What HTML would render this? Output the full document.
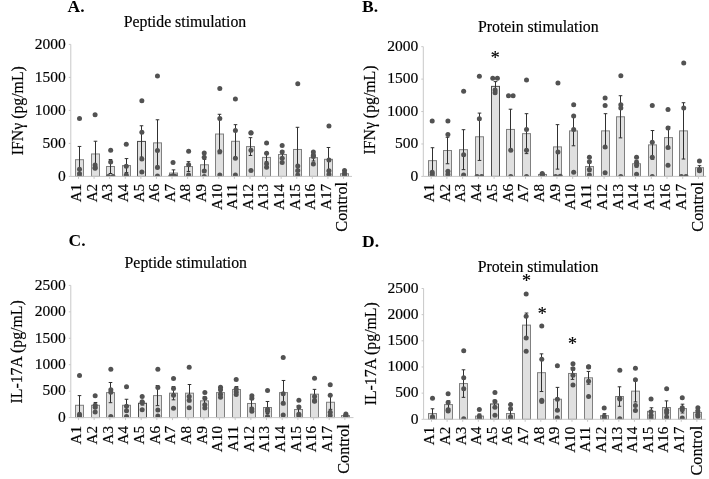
<!DOCTYPE html>
<html><head><meta charset="utf-8"><style>
html,body{margin:0;padding:0;background:#fff;}
svg{display:block;will-change:transform;}
text{font-family:"Liberation Serif",serif;fill:#000;stroke:#000;stroke-width:0.18px;}
.let{font-weight:bold;font-size:17.5px;stroke-width:0;}
.ttl{font-size:15.8px;}
.ylab{font-size:15.8px;}
.tick{font-size:15.5px;}
.cat{font-size:15.2px;}
.ctl{font-size:16.3px;}
.star{font-size:18px;}
.ax{stroke:#c8c8c8;stroke-width:1;}
.bar{fill:#e0e0e0;stroke:#808080;stroke-width:1;}
.err{stroke:#303030;stroke-width:1;}
.dot{fill:#525252;}
.b5{stroke:#4a4a4a;}
</style></head><body>
<svg width="709" height="479" viewBox="0 0 709 479">
<text x="67.5" y="11.8" class="let">A.</text>
<text x="185" y="27" class="ttl" text-anchor="middle">Peptide stimulation</text>
<text transform="translate(22.5,110.7) rotate(-90)" class="ylab" text-anchor="middle">IFNγ (pg/mL)</text>
<text x="65.8" y="180.7" class="tick" text-anchor="end">0</text>
<line x1="68.8" y1="176.4" x2="70.8" y2="176.4" class="ax"/>
<text x="65.8" y="147.7" class="tick" text-anchor="end">500</text>
<line x1="68.8" y1="143.4" x2="70.8" y2="143.4" class="ax"/>
<text x="65.8" y="114.7" class="tick" text-anchor="end">1000</text>
<line x1="68.8" y1="110.4" x2="70.8" y2="110.4" class="ax"/>
<text x="65.8" y="81.7" class="tick" text-anchor="end">1500</text>
<line x1="68.8" y1="77.4" x2="70.8" y2="77.4" class="ax"/>
<text x="65.8" y="48.7" class="tick" text-anchor="end">2000</text>
<line x1="68.8" y1="44.4" x2="70.8" y2="44.4" class="ax"/>
<rect x="75.5" y="159.7" width="8" height="16.7" class="bar"/>
<line x1="79.5" y1="146.44" x2="79.5" y2="172.97" class="err"/>
<line x1="77.7" y1="146.44" x2="81.3" y2="146.44" class="err"/>
<line x1="77.7" y1="172.97" x2="81.3" y2="172.97" class="err"/>
<text transform="translate(81.3,183.8) rotate(-90)" class="cat" text-anchor="end">A1</text>
<line x1="78.5" y1="176.4" x2="78.5" y2="178.9" class="ax"/>
<rect x="91.5" y="153.96" width="8" height="22.44" class="bar"/>
<line x1="95.5" y1="141.22" x2="95.5" y2="166.7" class="err"/>
<line x1="93.7" y1="141.22" x2="97.3" y2="141.22" class="err"/>
<line x1="93.7" y1="166.7" x2="97.3" y2="166.7" class="err"/>
<text transform="translate(96.89,183.8) rotate(-90)" class="cat" text-anchor="end">A2</text>
<line x1="94.09" y1="176.4" x2="94.09" y2="178.9" class="ax"/>
<rect x="106.5" y="166.5" width="8" height="9.9" class="bar"/>
<line x1="110.5" y1="159.5" x2="110.5" y2="173.5" class="err"/>
<line x1="108.7" y1="159.5" x2="112.3" y2="159.5" class="err"/>
<line x1="108.7" y1="173.5" x2="112.3" y2="173.5" class="err"/>
<text transform="translate(112.48,183.8) rotate(-90)" class="cat" text-anchor="end">A3</text>
<line x1="109.68" y1="176.4" x2="109.68" y2="178.9" class="ax"/>
<rect x="122.5" y="165.58" width="8" height="10.82" class="bar"/>
<line x1="126.5" y1="158.58" x2="126.5" y2="172.57" class="err"/>
<line x1="124.7" y1="158.58" x2="128.3" y2="158.58" class="err"/>
<line x1="124.7" y1="172.57" x2="128.3" y2="172.57" class="err"/>
<text transform="translate(128.07,183.8) rotate(-90)" class="cat" text-anchor="end">A4</text>
<line x1="125.27" y1="176.4" x2="125.27" y2="178.9" class="ax"/>
<rect x="137.5" y="141.42" width="8" height="34.98" class="bar b5"/>
<line x1="141.5" y1="125.78" x2="141.5" y2="157.06" class="err"/>
<line x1="139.7" y1="125.78" x2="143.3" y2="125.78" class="err"/>
<line x1="139.7" y1="157.06" x2="143.3" y2="157.06" class="err"/>
<text transform="translate(143.66,183.8) rotate(-90)" class="cat" text-anchor="end">A5</text>
<line x1="140.86" y1="176.4" x2="140.86" y2="178.9" class="ax"/>
<rect x="153.5" y="142.87" width="8" height="33.53" class="bar"/>
<line x1="157.5" y1="119.77" x2="157.5" y2="165.97" class="err"/>
<line x1="155.7" y1="119.77" x2="159.3" y2="119.77" class="err"/>
<line x1="155.7" y1="165.97" x2="159.3" y2="165.97" class="err"/>
<text transform="translate(159.25,183.8) rotate(-90)" class="cat" text-anchor="end">A6</text>
<line x1="156.45" y1="176.4" x2="156.45" y2="178.9" class="ax"/>
<rect x="169.5" y="173.03" width="8" height="3.37" class="bar"/>
<line x1="173.5" y1="169.87" x2="173.5" y2="176.2" class="err"/>
<line x1="171.7" y1="169.87" x2="175.3" y2="169.87" class="err"/>
<line x1="171.7" y1="176.2" x2="175.3" y2="176.2" class="err"/>
<text transform="translate(174.84,183.8) rotate(-90)" class="cat" text-anchor="end">A7</text>
<line x1="172.04" y1="176.4" x2="172.04" y2="178.9" class="ax"/>
<rect x="184.5" y="166.57" width="8" height="9.83" class="bar"/>
<line x1="188.5" y1="161.68" x2="188.5" y2="171.45" class="err"/>
<line x1="186.7" y1="161.68" x2="190.3" y2="161.68" class="err"/>
<line x1="186.7" y1="171.45" x2="190.3" y2="171.45" class="err"/>
<text transform="translate(190.43,183.8) rotate(-90)" class="cat" text-anchor="end">A8</text>
<line x1="187.63" y1="176.4" x2="187.63" y2="178.9" class="ax"/>
<rect x="200.5" y="164.78" width="8" height="11.62" class="bar"/>
<line x1="204.5" y1="159.37" x2="204.5" y2="170.2" class="err"/>
<line x1="202.7" y1="159.37" x2="206.3" y2="159.37" class="err"/>
<line x1="202.7" y1="170.2" x2="206.3" y2="170.2" class="err"/>
<text transform="translate(206.02,183.8) rotate(-90)" class="cat" text-anchor="end">A9</text>
<line x1="203.22" y1="176.4" x2="203.22" y2="178.9" class="ax"/>
<rect x="215.5" y="134.03" width="8" height="42.37" class="bar"/>
<line x1="219.5" y1="114.29" x2="219.5" y2="153.76" class="err"/>
<line x1="217.7" y1="114.29" x2="221.3" y2="114.29" class="err"/>
<line x1="217.7" y1="153.76" x2="221.3" y2="153.76" class="err"/>
<text transform="translate(221.61,183.8) rotate(-90)" class="cat" text-anchor="end">A10</text>
<line x1="218.81" y1="176.4" x2="218.81" y2="178.9" class="ax"/>
<rect x="231.5" y="141.29" width="8" height="35.11" class="bar"/>
<line x1="235.5" y1="124.66" x2="235.5" y2="157.92" class="err"/>
<line x1="233.7" y1="124.66" x2="237.3" y2="124.66" class="err"/>
<line x1="233.7" y1="157.92" x2="237.3" y2="157.92" class="err"/>
<text transform="translate(237.2,183.8) rotate(-90)" class="cat" text-anchor="end">A11</text>
<line x1="234.4" y1="176.4" x2="234.4" y2="178.9" class="ax"/>
<rect x="246.5" y="146.57" width="8" height="29.83" class="bar"/>
<line x1="250.5" y1="137.66" x2="250.5" y2="155.48" class="err"/>
<line x1="248.7" y1="137.66" x2="252.3" y2="137.66" class="err"/>
<line x1="248.7" y1="155.48" x2="252.3" y2="155.48" class="err"/>
<text transform="translate(252.79,183.8) rotate(-90)" class="cat" text-anchor="end">A12</text>
<line x1="249.99" y1="176.4" x2="249.99" y2="178.9" class="ax"/>
<rect x="262.5" y="157.39" width="8" height="19.01" class="bar"/>
<line x1="266.5" y1="153.04" x2="266.5" y2="161.75" class="err"/>
<line x1="264.7" y1="153.04" x2="268.3" y2="153.04" class="err"/>
<line x1="264.7" y1="161.75" x2="268.3" y2="161.75" class="err"/>
<text transform="translate(268.38,183.8) rotate(-90)" class="cat" text-anchor="end">A13</text>
<line x1="265.58" y1="176.4" x2="265.58" y2="178.9" class="ax"/>
<rect x="278.5" y="154.49" width="8" height="21.91" class="bar"/>
<line x1="282.5" y1="150.86" x2="282.5" y2="158.12" class="err"/>
<line x1="280.7" y1="150.86" x2="284.3" y2="150.86" class="err"/>
<line x1="280.7" y1="158.12" x2="284.3" y2="158.12" class="err"/>
<text transform="translate(283.97,183.8) rotate(-90)" class="cat" text-anchor="end">A14</text>
<line x1="281.17" y1="176.4" x2="281.17" y2="178.9" class="ax"/>
<rect x="293.5" y="149.47" width="8" height="26.93" class="bar"/>
<line x1="297.5" y1="127.3" x2="297.5" y2="171.65" class="err"/>
<line x1="295.7" y1="127.3" x2="299.3" y2="127.3" class="err"/>
<line x1="295.7" y1="171.65" x2="299.3" y2="171.65" class="err"/>
<text transform="translate(299.56,183.8) rotate(-90)" class="cat" text-anchor="end">A15</text>
<line x1="296.76" y1="176.4" x2="296.76" y2="178.9" class="ax"/>
<rect x="309.5" y="157.66" width="8" height="18.74" class="bar"/>
<line x1="313.5" y1="154.29" x2="313.5" y2="161.02" class="err"/>
<line x1="311.7" y1="154.29" x2="315.3" y2="154.29" class="err"/>
<line x1="311.7" y1="161.02" x2="315.3" y2="161.02" class="err"/>
<text transform="translate(315.15,183.8) rotate(-90)" class="cat" text-anchor="end">A16</text>
<line x1="312.35" y1="176.4" x2="312.35" y2="178.9" class="ax"/>
<rect x="324.5" y="159.31" width="8" height="17.09" class="bar"/>
<line x1="328.5" y1="147.49" x2="328.5" y2="171.12" class="err"/>
<line x1="326.7" y1="147.49" x2="330.3" y2="147.49" class="err"/>
<line x1="326.7" y1="171.12" x2="330.3" y2="171.12" class="err"/>
<text transform="translate(330.74,183.8) rotate(-90)" class="cat" text-anchor="end">A17</text>
<line x1="327.94" y1="176.4" x2="327.94" y2="178.9" class="ax"/>
<rect x="340.5" y="173.76" width="8" height="2.64" class="bar"/>
<line x1="344.5" y1="170.86" x2="344.5" y2="176.4" class="err"/>
<line x1="342.7" y1="170.86" x2="346.3" y2="170.86" class="err"/>
<text transform="translate(347.43,181.9) rotate(-90)" class="cat ctl" text-anchor="end">Control</text>
<line x1="343.53" y1="176.4" x2="343.53" y2="178.9" class="ax"/>
<clipPath id="cpA"><rect x="70.8" y="0" width="291.2" height="176.4"/></clipPath>
<g clip-path="url(#cpA)"><circle cx="79.5" cy="118.58" r="2.5" class="dot"/><circle cx="79.5" cy="169.14" r="2.5" class="dot"/><circle cx="79.5" cy="173.76" r="2.5" class="dot"/><circle cx="79.5" cy="176.4" r="2.5" class="dot"/><circle cx="95.09" cy="114.69" r="2.5" class="dot"/><circle cx="95.09" cy="165.05" r="2.5" class="dot"/><circle cx="95.09" cy="167.82" r="2.5" class="dot"/><circle cx="95.09" cy="168.22" r="2.5" class="dot"/><circle cx="110.68" cy="150.13" r="2.5" class="dot"/><circle cx="110.68" cy="161.95" r="2.5" class="dot"/><circle cx="108.38" cy="176.4" r="2.5" class="dot"/><circle cx="112.98" cy="176.4" r="2.5" class="dot"/><circle cx="126.27" cy="144.32" r="2.5" class="dot"/><circle cx="126.27" cy="166.3" r="2.5" class="dot"/><circle cx="126.27" cy="175.08" r="2.5" class="dot"/><circle cx="126.27" cy="176.4" r="2.5" class="dot"/><circle cx="141.86" cy="100.7" r="2.5" class="dot"/><circle cx="141.86" cy="132.31" r="2.5" class="dot"/><circle cx="141.86" cy="159.04" r="2.5" class="dot"/><circle cx="141.86" cy="172.04" r="2.5" class="dot"/><circle cx="157.45" cy="75.88" r="2.5" class="dot"/><circle cx="157.45" cy="150.59" r="2.5" class="dot"/><circle cx="157.45" cy="167.49" r="2.5" class="dot"/><circle cx="157.45" cy="175.94" r="2.5" class="dot"/><circle cx="173.04" cy="162.41" r="2.5" class="dot"/><circle cx="170.74" cy="176.4" r="2.5" class="dot"/><circle cx="175.34" cy="176.4" r="2.5" class="dot"/><circle cx="173.04" cy="175.74" r="2.5" class="dot"/><circle cx="188.63" cy="151.32" r="2.5" class="dot"/><circle cx="188.63" cy="164.85" r="2.5" class="dot"/><circle cx="188.63" cy="175.08" r="2.5" class="dot"/><circle cx="188.63" cy="176.4" r="2.5" class="dot"/><circle cx="204.22" cy="153.04" r="2.5" class="dot"/><circle cx="204.22" cy="157.33" r="2.5" class="dot"/><circle cx="204.22" cy="170.92" r="2.5" class="dot"/><circle cx="204.22" cy="176.4" r="2.5" class="dot"/><circle cx="219.81" cy="88.55" r="2.5" class="dot"/><circle cx="219.81" cy="118.39" r="2.5" class="dot"/><circle cx="219.81" cy="151.58" r="2.5" class="dot"/><circle cx="219.81" cy="174.95" r="2.5" class="dot"/><circle cx="235.4" cy="98.92" r="2.5" class="dot"/><circle cx="235.4" cy="130.4" r="2.5" class="dot"/><circle cx="235.4" cy="158.32" r="2.5" class="dot"/><circle cx="235.4" cy="174.95" r="2.5" class="dot"/><circle cx="250.99" cy="132.84" r="2.5" class="dot"/><circle cx="250.99" cy="133.1" r="2.5" class="dot"/><circle cx="250.99" cy="150.13" r="2.5" class="dot"/><circle cx="250.99" cy="170.39" r="2.5" class="dot"/><circle cx="266.58" cy="142.94" r="2.5" class="dot"/><circle cx="266.58" cy="153.3" r="2.5" class="dot"/><circle cx="266.58" cy="163.66" r="2.5" class="dot"/><circle cx="266.58" cy="167.23" r="2.5" class="dot"/><circle cx="282.17" cy="145.58" r="2.5" class="dot"/><circle cx="282.17" cy="152.11" r="2.5" class="dot"/><circle cx="282.17" cy="158.32" r="2.5" class="dot"/><circle cx="282.17" cy="162.41" r="2.5" class="dot"/><circle cx="297.76" cy="83.74" r="2.5" class="dot"/><circle cx="297.76" cy="166.04" r="2.5" class="dot"/><circle cx="297.76" cy="170.39" r="2.5" class="dot"/><circle cx="297.76" cy="174.95" r="2.5" class="dot"/><circle cx="313.35" cy="152.11" r="2.5" class="dot"/><circle cx="313.35" cy="155.28" r="2.5" class="dot"/><circle cx="313.35" cy="156.6" r="2.5" class="dot"/><circle cx="313.35" cy="164.12" r="2.5" class="dot"/><circle cx="328.94" cy="126.11" r="2.5" class="dot"/><circle cx="328.94" cy="160.03" r="2.5" class="dot"/><circle cx="328.94" cy="170.86" r="2.5" class="dot"/><circle cx="328.94" cy="174.49" r="2.5" class="dot"/><circle cx="344.53" cy="170.39" r="2.5" class="dot"/><circle cx="344.53" cy="173.3" r="2.5" class="dot"/><circle cx="344.53" cy="174.95" r="2.5" class="dot"/><circle cx="344.53" cy="176.4" r="2.5" class="dot"/></g>
<line x1="70.8" y1="44.4" x2="70.8" y2="176.4" class="ax"/>
<line x1="70.8" y1="176.4" x2="352" y2="176.4" class="ax"/>
<text x="362" y="12" class="let">B.</text>
<text x="538.3" y="31.8" class="ttl" text-anchor="middle">Protein stimulation</text>
<text transform="translate(375,110) rotate(-90)" class="ylab" text-anchor="middle">IFNγ (pg/mL)</text>
<text x="418.3" y="180.7" class="tick" text-anchor="end">0</text>
<line x1="421.3" y1="176.4" x2="423.3" y2="176.4" class="ax"/>
<text x="418.3" y="148.27" class="tick" text-anchor="end">500</text>
<line x1="421.3" y1="143.97" x2="423.3" y2="143.97" class="ax"/>
<text x="418.3" y="115.84" class="tick" text-anchor="end">1000</text>
<line x1="421.3" y1="111.54" x2="423.3" y2="111.54" class="ax"/>
<text x="418.3" y="83.41" class="tick" text-anchor="end">1500</text>
<line x1="421.3" y1="79.11" x2="423.3" y2="79.11" class="ax"/>
<text x="418.3" y="50.98" class="tick" text-anchor="end">2000</text>
<line x1="421.3" y1="46.68" x2="423.3" y2="46.68" class="ax"/>
<rect x="428.5" y="160.64" width="8" height="15.76" class="bar"/>
<line x1="432.5" y1="147.73" x2="432.5" y2="173.55" class="err"/>
<line x1="430.7" y1="147.73" x2="434.3" y2="147.73" class="err"/>
<line x1="430.7" y1="173.55" x2="434.3" y2="173.55" class="err"/>
<text transform="translate(434,183.8) rotate(-90)" class="cat" text-anchor="end">A1</text>
<line x1="431.2" y1="176.4" x2="431.2" y2="178.9" class="ax"/>
<rect x="443.5" y="150.52" width="8" height="25.88" class="bar"/>
<line x1="447.5" y1="137.29" x2="447.5" y2="163.75" class="err"/>
<line x1="445.7" y1="137.29" x2="449.3" y2="137.29" class="err"/>
<line x1="445.7" y1="163.75" x2="449.3" y2="163.75" class="err"/>
<text transform="translate(449.72,183.8) rotate(-90)" class="cat" text-anchor="end">A2</text>
<line x1="446.92" y1="176.4" x2="446.92" y2="178.9" class="ax"/>
<rect x="459.5" y="149.68" width="8" height="26.72" class="bar"/>
<line x1="463.5" y1="129.7" x2="463.5" y2="169.65" class="err"/>
<line x1="461.7" y1="129.7" x2="465.3" y2="129.7" class="err"/>
<line x1="461.7" y1="169.65" x2="465.3" y2="169.65" class="err"/>
<text transform="translate(465.44,183.8) rotate(-90)" class="cat" text-anchor="end">A3</text>
<line x1="462.64" y1="176.4" x2="462.64" y2="178.9" class="ax"/>
<rect x="475.5" y="136.77" width="8" height="39.63" class="bar"/>
<line x1="479.5" y1="113.1" x2="479.5" y2="160.44" class="err"/>
<line x1="477.7" y1="113.1" x2="481.3" y2="113.1" class="err"/>
<line x1="477.7" y1="160.44" x2="481.3" y2="160.44" class="err"/>
<text transform="translate(481.16,183.8) rotate(-90)" class="cat" text-anchor="end">A4</text>
<line x1="478.36" y1="176.4" x2="478.36" y2="178.9" class="ax"/>
<rect x="491.5" y="86.37" width="8" height="90.03" class="bar b5"/>
<line x1="495.5" y1="81.64" x2="495.5" y2="91.11" class="err"/>
<line x1="493.7" y1="81.64" x2="497.3" y2="81.64" class="err"/>
<line x1="493.7" y1="91.11" x2="497.3" y2="91.11" class="err"/>
<text transform="translate(496.88,183.8) rotate(-90)" class="cat" text-anchor="end">A5</text>
<line x1="494.08" y1="176.4" x2="494.08" y2="178.9" class="ax"/>
<rect x="506.5" y="129.44" width="8" height="46.96" class="bar"/>
<line x1="510.5" y1="109.21" x2="510.5" y2="149.68" class="err"/>
<line x1="508.7" y1="109.21" x2="512.3" y2="109.21" class="err"/>
<line x1="508.7" y1="149.68" x2="512.3" y2="149.68" class="err"/>
<text transform="translate(512.6,183.8) rotate(-90)" class="cat" text-anchor="end">A6</text>
<line x1="509.8" y1="176.4" x2="509.8" y2="178.9" class="ax"/>
<rect x="522.5" y="133.66" width="8" height="42.74" class="bar"/>
<line x1="526.5" y1="113.68" x2="526.5" y2="153.63" class="err"/>
<line x1="524.7" y1="113.68" x2="528.3" y2="113.68" class="err"/>
<line x1="524.7" y1="153.63" x2="528.3" y2="153.63" class="err"/>
<text transform="translate(528.32,183.8) rotate(-90)" class="cat" text-anchor="end">A7</text>
<line x1="525.52" y1="176.4" x2="525.52" y2="178.9" class="ax"/>
<rect x="538.5" y="174.45" width="8" height="1.95" class="bar"/>
<line x1="542.5" y1="173.61" x2="542.5" y2="175.3" class="err"/>
<line x1="540.7" y1="173.61" x2="544.3" y2="173.61" class="err"/>
<line x1="540.7" y1="175.3" x2="544.3" y2="175.3" class="err"/>
<text transform="translate(544.04,183.8) rotate(-90)" class="cat" text-anchor="end">A8</text>
<line x1="541.24" y1="176.4" x2="541.24" y2="178.9" class="ax"/>
<rect x="553.5" y="146.89" width="8" height="29.51" class="bar"/>
<line x1="557.5" y1="124.64" x2="557.5" y2="169.14" class="err"/>
<line x1="555.7" y1="124.64" x2="559.3" y2="124.64" class="err"/>
<line x1="555.7" y1="169.14" x2="559.3" y2="169.14" class="err"/>
<text transform="translate(559.76,183.8) rotate(-90)" class="cat" text-anchor="end">A9</text>
<line x1="556.96" y1="176.4" x2="556.96" y2="178.9" class="ax"/>
<rect x="569.5" y="130.87" width="8" height="45.53" class="bar"/>
<line x1="573.5" y1="115.95" x2="573.5" y2="145.79" class="err"/>
<line x1="571.7" y1="115.95" x2="575.3" y2="115.95" class="err"/>
<line x1="571.7" y1="145.79" x2="575.3" y2="145.79" class="err"/>
<text transform="translate(575.48,183.8) rotate(-90)" class="cat" text-anchor="end">A10</text>
<line x1="572.68" y1="176.4" x2="572.68" y2="178.9" class="ax"/>
<rect x="585.5" y="166.54" width="8" height="9.86" class="bar"/>
<line x1="589.5" y1="161.48" x2="589.5" y2="171.6" class="err"/>
<line x1="587.7" y1="161.48" x2="591.3" y2="161.48" class="err"/>
<line x1="587.7" y1="171.6" x2="591.3" y2="171.6" class="err"/>
<text transform="translate(591.2,183.8) rotate(-90)" class="cat" text-anchor="end">A11</text>
<line x1="588.4" y1="176.4" x2="588.4" y2="178.9" class="ax"/>
<rect x="601.5" y="130.87" width="8" height="45.53" class="bar"/>
<line x1="605.5" y1="113.68" x2="605.5" y2="148.06" class="err"/>
<line x1="603.7" y1="113.68" x2="607.3" y2="113.68" class="err"/>
<line x1="603.7" y1="148.06" x2="607.3" y2="148.06" class="err"/>
<text transform="translate(606.92,183.8) rotate(-90)" class="cat" text-anchor="end">A12</text>
<line x1="604.12" y1="176.4" x2="604.12" y2="178.9" class="ax"/>
<rect x="616.5" y="116.79" width="8" height="59.61" class="bar"/>
<line x1="620.5" y1="95.71" x2="620.5" y2="137.87" class="err"/>
<line x1="618.7" y1="95.71" x2="622.3" y2="95.71" class="err"/>
<line x1="618.7" y1="137.87" x2="622.3" y2="137.87" class="err"/>
<text transform="translate(622.64,183.8) rotate(-90)" class="cat" text-anchor="end">A13</text>
<line x1="619.84" y1="176.4" x2="619.84" y2="178.9" class="ax"/>
<rect x="632.5" y="163.75" width="8" height="12.65" class="bar"/>
<line x1="636.5" y1="160.38" x2="636.5" y2="167.13" class="err"/>
<line x1="634.7" y1="160.38" x2="638.3" y2="160.38" class="err"/>
<line x1="634.7" y1="167.13" x2="638.3" y2="167.13" class="err"/>
<text transform="translate(638.36,183.8) rotate(-90)" class="cat" text-anchor="end">A14</text>
<line x1="635.56" y1="176.4" x2="635.56" y2="178.9" class="ax"/>
<rect x="648.5" y="144.88" width="8" height="31.52" class="bar"/>
<line x1="652.5" y1="130.54" x2="652.5" y2="159.21" class="err"/>
<line x1="650.7" y1="130.54" x2="654.3" y2="130.54" class="err"/>
<line x1="650.7" y1="159.21" x2="654.3" y2="159.21" class="err"/>
<text transform="translate(654.08,183.8) rotate(-90)" class="cat" text-anchor="end">A15</text>
<line x1="651.28" y1="176.4" x2="651.28" y2="178.9" class="ax"/>
<rect x="664.5" y="137.61" width="8" height="38.79" class="bar"/>
<line x1="668.5" y1="126.65" x2="668.5" y2="148.58" class="err"/>
<line x1="666.7" y1="126.65" x2="670.3" y2="126.65" class="err"/>
<line x1="666.7" y1="148.58" x2="670.3" y2="148.58" class="err"/>
<text transform="translate(669.8,183.8) rotate(-90)" class="cat" text-anchor="end">A16</text>
<line x1="667" y1="176.4" x2="667" y2="178.9" class="ax"/>
<rect x="679.5" y="130.87" width="8" height="45.53" class="bar"/>
<line x1="683.5" y1="102.72" x2="683.5" y2="159.02" class="err"/>
<line x1="681.7" y1="102.72" x2="685.3" y2="102.72" class="err"/>
<line x1="681.7" y1="159.02" x2="685.3" y2="159.02" class="err"/>
<text transform="translate(685.52,183.8) rotate(-90)" class="cat" text-anchor="end">A17</text>
<line x1="682.72" y1="176.4" x2="682.72" y2="178.9" class="ax"/>
<rect x="695.5" y="167.71" width="8" height="8.69" class="bar"/>
<line x1="699.5" y1="165.7" x2="699.5" y2="169.72" class="err"/>
<line x1="697.7" y1="165.7" x2="701.3" y2="165.7" class="err"/>
<line x1="697.7" y1="169.72" x2="701.3" y2="169.72" class="err"/>
<text transform="translate(703.24,181.9) rotate(-90)" class="cat ctl" text-anchor="end">Control</text>
<line x1="698.44" y1="176.4" x2="698.44" y2="178.9" class="ax"/>
<text x="495.2" y="63.6" class="star" text-anchor="middle">*</text>
<clipPath id="cpB"><rect x="423.3" y="0" width="292.9" height="176.4"/></clipPath>
<g clip-path="url(#cpB)"><circle cx="432.2" cy="121.01" r="2.5" class="dot"/><circle cx="432.2" cy="172.18" r="2.5" class="dot"/><circle cx="432.2" cy="174.45" r="2.5" class="dot"/><circle cx="432.2" cy="176.4" r="2.5" class="dot"/><circle cx="447.92" cy="121.01" r="2.5" class="dot"/><circle cx="447.92" cy="134.5" r="2.5" class="dot"/><circle cx="447.92" cy="171.34" r="2.5" class="dot"/><circle cx="447.92" cy="174.45" r="2.5" class="dot"/><circle cx="463.64" cy="91.17" r="2.5" class="dot"/><circle cx="463.64" cy="154.74" r="2.5" class="dot"/><circle cx="463.64" cy="174.97" r="2.5" class="dot"/><circle cx="463.64" cy="176.4" r="2.5" class="dot"/><circle cx="479.36" cy="76.26" r="2.5" class="dot"/><circle cx="479.36" cy="118.74" r="2.5" class="dot"/><circle cx="477.06" cy="176.4" r="2.5" class="dot"/><circle cx="481.66" cy="176.4" r="2.5" class="dot"/><circle cx="492.78" cy="78.27" r="2.5" class="dot"/><circle cx="497.38" cy="78.27" r="2.5" class="dot"/><circle cx="495.08" cy="90.07" r="2.5" class="dot"/><circle cx="495.08" cy="92.86" r="2.5" class="dot"/><circle cx="508.5" cy="95.71" r="2.5" class="dot"/><circle cx="513.1" cy="95.71" r="2.5" class="dot"/><circle cx="510.8" cy="150.26" r="2.5" class="dot"/><circle cx="510.8" cy="176.4" r="2.5" class="dot"/><circle cx="526.52" cy="79.95" r="2.5" class="dot"/><circle cx="526.52" cy="129.44" r="2.5" class="dot"/><circle cx="526.52" cy="150.26" r="2.5" class="dot"/><circle cx="526.52" cy="176.4" r="2.5" class="dot"/><circle cx="542.24" cy="173.61" r="2.5" class="dot"/><circle cx="542.24" cy="174.45" r="2.5" class="dot"/><circle cx="542.24" cy="175.1" r="2.5" class="dot"/><circle cx="542.24" cy="176.4" r="2.5" class="dot"/><circle cx="557.96" cy="83" r="2.5" class="dot"/><circle cx="557.96" cy="151.95" r="2.5" class="dot"/><circle cx="555.66" cy="176.4" r="2.5" class="dot"/><circle cx="560.26" cy="176.21" r="2.5" class="dot"/><circle cx="573.68" cy="104.66" r="2.5" class="dot"/><circle cx="573.68" cy="115.95" r="2.5" class="dot"/><circle cx="573.68" cy="129.44" r="2.5" class="dot"/><circle cx="573.68" cy="172.18" r="2.5" class="dot"/><circle cx="589.4" cy="157.27" r="2.5" class="dot"/><circle cx="589.4" cy="161.81" r="2.5" class="dot"/><circle cx="589.4" cy="169.4" r="2.5" class="dot"/><circle cx="589.4" cy="175.1" r="2.5" class="dot"/><circle cx="605.12" cy="97.92" r="2.5" class="dot"/><circle cx="605.12" cy="105.51" r="2.5" class="dot"/><circle cx="605.12" cy="146.89" r="2.5" class="dot"/><circle cx="605.12" cy="172.77" r="2.5" class="dot"/><circle cx="620.84" cy="75.74" r="2.5" class="dot"/><circle cx="620.84" cy="104.66" r="2.5" class="dot"/><circle cx="620.84" cy="108.04" r="2.5" class="dot"/><circle cx="620.84" cy="176.4" r="2.5" class="dot"/><circle cx="636.56" cy="157.27" r="2.5" class="dot"/><circle cx="636.56" cy="162.33" r="2.5" class="dot"/><circle cx="636.56" cy="165.18" r="2.5" class="dot"/><circle cx="636.56" cy="174.13" r="2.5" class="dot"/><circle cx="652.28" cy="105.51" r="2.5" class="dot"/><circle cx="652.28" cy="142.35" r="2.5" class="dot"/><circle cx="652.28" cy="157.27" r="2.5" class="dot"/><circle cx="652.28" cy="176.4" r="2.5" class="dot"/><circle cx="668" cy="109.46" r="2.5" class="dot"/><circle cx="668" cy="128.01" r="2.5" class="dot"/><circle cx="668" cy="147.41" r="2.5" class="dot"/><circle cx="668" cy="165.18" r="2.5" class="dot"/><circle cx="683.72" cy="63.09" r="2.5" class="dot"/><circle cx="683.72" cy="108.04" r="2.5" class="dot"/><circle cx="681.42" cy="176.4" r="2.5" class="dot"/><circle cx="686.02" cy="176.4" r="2.5" class="dot"/><circle cx="699.44" cy="160.96" r="2.5" class="dot"/><circle cx="699.44" cy="169.4" r="2.5" class="dot"/><circle cx="699.44" cy="170.76" r="2.5" class="dot"/><circle cx="699.44" cy="169.91" r="2.5" class="dot"/></g>
<line x1="423.3" y1="46.68" x2="423.3" y2="176.4" class="ax"/>
<line x1="423.3" y1="176.4" x2="706.2" y2="176.4" class="ax"/>
<text x="68.5" y="245.9" class="let">C.</text>
<text x="185.8" y="267.6" class="ttl" text-anchor="middle">Peptide stimulation</text>
<text transform="translate(22.4,351.9) rotate(-90)" class="ylab" text-anchor="middle">IL-17A (pg/mL)</text>
<text x="65.8" y="421.9" class="tick" text-anchor="end">0</text>
<line x1="68.8" y1="417.6" x2="70.8" y2="417.6" class="ax"/>
<text x="65.8" y="395.46" class="tick" text-anchor="end">500</text>
<line x1="68.8" y1="391.16" x2="70.8" y2="391.16" class="ax"/>
<text x="65.8" y="369.02" class="tick" text-anchor="end">1000</text>
<line x1="68.8" y1="364.72" x2="70.8" y2="364.72" class="ax"/>
<text x="65.8" y="342.58" class="tick" text-anchor="end">1500</text>
<line x1="68.8" y1="338.28" x2="70.8" y2="338.28" class="ax"/>
<text x="65.8" y="316.14" class="tick" text-anchor="end">2000</text>
<line x1="68.8" y1="311.84" x2="70.8" y2="311.84" class="ax"/>
<text x="65.8" y="289.7" class="tick" text-anchor="end">2500</text>
<line x1="68.8" y1="285.4" x2="70.8" y2="285.4" class="ax"/>
<rect x="75.5" y="405.28" width="8" height="12.32" class="bar"/>
<line x1="79.5" y1="395.6" x2="79.5" y2="414.96" class="err"/>
<line x1="77.7" y1="395.6" x2="81.3" y2="395.6" class="err"/>
<line x1="77.7" y1="414.96" x2="81.3" y2="414.96" class="err"/>
<text transform="translate(81.3,426) rotate(-90)" class="cat" text-anchor="end">A1</text>
<line x1="78.5" y1="417.6" x2="78.5" y2="420.1" class="ax"/>
<rect x="91.5" y="405.28" width="8" height="12.32" class="bar"/>
<line x1="95.5" y1="402.48" x2="95.5" y2="408.08" class="err"/>
<line x1="93.7" y1="402.48" x2="97.3" y2="402.48" class="err"/>
<line x1="93.7" y1="408.08" x2="97.3" y2="408.08" class="err"/>
<text transform="translate(96.97,426) rotate(-90)" class="cat" text-anchor="end">A2</text>
<line x1="94.17" y1="417.6" x2="94.17" y2="420.1" class="ax"/>
<rect x="106.5" y="392.59" width="8" height="25.01" class="bar"/>
<line x1="110.5" y1="382.49" x2="110.5" y2="402.69" class="err"/>
<line x1="108.7" y1="382.49" x2="112.3" y2="382.49" class="err"/>
<line x1="108.7" y1="402.69" x2="112.3" y2="402.69" class="err"/>
<text transform="translate(112.64,426) rotate(-90)" class="cat" text-anchor="end">A3</text>
<line x1="109.84" y1="417.6" x2="109.84" y2="420.1" class="ax"/>
<rect x="122.5" y="405.28" width="8" height="12.32" class="bar"/>
<line x1="126.5" y1="399.25" x2="126.5" y2="411.31" class="err"/>
<line x1="124.7" y1="399.25" x2="128.3" y2="399.25" class="err"/>
<line x1="124.7" y1="411.31" x2="128.3" y2="411.31" class="err"/>
<text transform="translate(128.31,426) rotate(-90)" class="cat" text-anchor="end">A4</text>
<line x1="125.51" y1="417.6" x2="125.51" y2="420.1" class="ax"/>
<rect x="138.5" y="403.27" width="8" height="14.33" class="bar b5"/>
<line x1="142.5" y1="401.47" x2="142.5" y2="405.07" class="err"/>
<line x1="140.7" y1="401.47" x2="144.3" y2="401.47" class="err"/>
<line x1="140.7" y1="405.07" x2="144.3" y2="405.07" class="err"/>
<text transform="translate(143.98,426) rotate(-90)" class="cat" text-anchor="end">A5</text>
<line x1="141.18" y1="417.6" x2="141.18" y2="420.1" class="ax"/>
<rect x="153.5" y="395.6" width="8" height="22" class="bar"/>
<line x1="157.5" y1="385.5" x2="157.5" y2="405.7" class="err"/>
<line x1="155.7" y1="385.5" x2="159.3" y2="385.5" class="err"/>
<line x1="155.7" y1="405.7" x2="159.3" y2="405.7" class="err"/>
<text transform="translate(159.65,426) rotate(-90)" class="cat" text-anchor="end">A6</text>
<line x1="156.85" y1="417.6" x2="156.85" y2="420.1" class="ax"/>
<rect x="169.5" y="393.17" width="8" height="24.43" class="bar"/>
<line x1="173.5" y1="386.51" x2="173.5" y2="399.83" class="err"/>
<line x1="171.7" y1="386.51" x2="175.3" y2="386.51" class="err"/>
<line x1="171.7" y1="399.83" x2="175.3" y2="399.83" class="err"/>
<text transform="translate(175.32,426) rotate(-90)" class="cat" text-anchor="end">A7</text>
<line x1="172.52" y1="417.6" x2="172.52" y2="420.1" class="ax"/>
<rect x="185.5" y="393.17" width="8" height="24.43" class="bar"/>
<line x1="189.5" y1="384.5" x2="189.5" y2="401.84" class="err"/>
<line x1="187.7" y1="384.5" x2="191.3" y2="384.5" class="err"/>
<line x1="187.7" y1="401.84" x2="191.3" y2="401.84" class="err"/>
<text transform="translate(190.99,426) rotate(-90)" class="cat" text-anchor="end">A8</text>
<line x1="188.19" y1="417.6" x2="188.19" y2="420.1" class="ax"/>
<rect x="200.5" y="400.84" width="8" height="16.76" class="bar"/>
<line x1="204.5" y1="396.82" x2="204.5" y2="404.86" class="err"/>
<line x1="202.7" y1="396.82" x2="206.3" y2="396.82" class="err"/>
<line x1="202.7" y1="404.86" x2="206.3" y2="404.86" class="err"/>
<text transform="translate(206.66,426) rotate(-90)" class="cat" text-anchor="end">A9</text>
<line x1="203.86" y1="417.6" x2="203.86" y2="420.1" class="ax"/>
<rect x="216.5" y="392.59" width="8" height="25.01" class="bar"/>
<line x1="220.5" y1="390.16" x2="220.5" y2="395.02" class="err"/>
<line x1="218.7" y1="390.16" x2="222.3" y2="390.16" class="err"/>
<line x1="218.7" y1="395.02" x2="222.3" y2="395.02" class="err"/>
<text transform="translate(222.33,426) rotate(-90)" class="cat" text-anchor="end">A10</text>
<line x1="219.53" y1="417.6" x2="219.53" y2="420.1" class="ax"/>
<rect x="232.5" y="389.52" width="8" height="28.08" class="bar"/>
<line x1="236.5" y1="386.51" x2="236.5" y2="392.53" class="err"/>
<line x1="234.7" y1="386.51" x2="238.3" y2="386.51" class="err"/>
<line x1="234.7" y1="392.53" x2="238.3" y2="392.53" class="err"/>
<text transform="translate(238,426) rotate(-90)" class="cat" text-anchor="end">A11</text>
<line x1="235.2" y1="417.6" x2="235.2" y2="420.1" class="ax"/>
<rect x="247.5" y="403.48" width="8" height="14.12" class="bar"/>
<line x1="251.5" y1="399.52" x2="251.5" y2="407.45" class="err"/>
<line x1="249.7" y1="399.52" x2="253.3" y2="399.52" class="err"/>
<line x1="249.7" y1="407.45" x2="253.3" y2="407.45" class="err"/>
<text transform="translate(253.67,426) rotate(-90)" class="cat" text-anchor="end">A12</text>
<line x1="250.87" y1="417.6" x2="250.87" y2="420.1" class="ax"/>
<rect x="263.5" y="407.5" width="8" height="10.1" class="bar"/>
<line x1="267.5" y1="401.47" x2="267.5" y2="413.53" class="err"/>
<line x1="265.7" y1="401.47" x2="269.3" y2="401.47" class="err"/>
<line x1="265.7" y1="413.53" x2="269.3" y2="413.53" class="err"/>
<text transform="translate(269.34,426) rotate(-90)" class="cat" text-anchor="end">A13</text>
<line x1="266.54" y1="417.6" x2="266.54" y2="420.1" class="ax"/>
<rect x="279.5" y="392.59" width="8" height="25.01" class="bar"/>
<line x1="283.5" y1="380.48" x2="283.5" y2="404.7" class="err"/>
<line x1="281.7" y1="380.48" x2="285.3" y2="380.48" class="err"/>
<line x1="281.7" y1="404.7" x2="285.3" y2="404.7" class="err"/>
<text transform="translate(285.01,426) rotate(-90)" class="cat" text-anchor="end">A14</text>
<line x1="282.21" y1="417.6" x2="282.21" y2="420.1" class="ax"/>
<rect x="294.5" y="409.51" width="8" height="8.09" class="bar"/>
<line x1="298.5" y1="405.7" x2="298.5" y2="413.32" class="err"/>
<line x1="296.7" y1="405.7" x2="300.3" y2="405.7" class="err"/>
<line x1="296.7" y1="413.32" x2="300.3" y2="413.32" class="err"/>
<text transform="translate(300.68,426) rotate(-90)" class="cat" text-anchor="end">A15</text>
<line x1="297.88" y1="417.6" x2="297.88" y2="420.1" class="ax"/>
<rect x="310.5" y="394.17" width="8" height="23.43" class="bar"/>
<line x1="314.5" y1="389.36" x2="314.5" y2="398.99" class="err"/>
<line x1="312.7" y1="389.36" x2="316.3" y2="389.36" class="err"/>
<line x1="312.7" y1="398.99" x2="316.3" y2="398.99" class="err"/>
<text transform="translate(316.35,426) rotate(-90)" class="cat" text-anchor="end">A16</text>
<line x1="313.55" y1="417.6" x2="313.55" y2="420.1" class="ax"/>
<rect x="326.5" y="402.26" width="8" height="15.34" class="bar"/>
<line x1="330.5" y1="395.18" x2="330.5" y2="409.35" class="err"/>
<line x1="328.7" y1="395.18" x2="332.3" y2="395.18" class="err"/>
<line x1="328.7" y1="409.35" x2="332.3" y2="409.35" class="err"/>
<text transform="translate(332.02,426) rotate(-90)" class="cat" text-anchor="end">A17</text>
<line x1="329.22" y1="417.6" x2="329.22" y2="420.1" class="ax"/>
<rect x="341.5" y="415.59" width="8" height="2.01" class="bar"/>
<line x1="345.5" y1="414.8" x2="345.5" y2="416.38" class="err"/>
<line x1="343.7" y1="414.8" x2="347.3" y2="414.8" class="err"/>
<line x1="343.7" y1="416.38" x2="347.3" y2="416.38" class="err"/>
<text transform="translate(348.79,424.1) rotate(-90)" class="cat ctl" text-anchor="end">Control</text>
<line x1="344.89" y1="417.6" x2="344.89" y2="420.1" class="ax"/>
<clipPath id="cpC"><rect x="70.8" y="0" width="292.7" height="417.6"/></clipPath>
<g clip-path="url(#cpC)"><circle cx="79.5" cy="375.61" r="2.5" class="dot"/><circle cx="79.5" cy="414.37" r="2.5" class="dot"/><circle cx="79.5" cy="416.01" r="2.5" class="dot"/><circle cx="79.5" cy="417.6" r="2.5" class="dot"/><circle cx="95.17" cy="395.81" r="2.5" class="dot"/><circle cx="95.17" cy="405.28" r="2.5" class="dot"/><circle cx="95.17" cy="407.29" r="2.5" class="dot"/><circle cx="95.17" cy="411.94" r="2.5" class="dot"/><circle cx="110.84" cy="369.37" r="2.5" class="dot"/><circle cx="110.84" cy="389.73" r="2.5" class="dot"/><circle cx="110.84" cy="392.16" r="2.5" class="dot"/><circle cx="110.84" cy="416.38" r="2.5" class="dot"/><circle cx="126.51" cy="386.72" r="2.5" class="dot"/><circle cx="126.51" cy="406.28" r="2.5" class="dot"/><circle cx="126.51" cy="410.73" r="2.5" class="dot"/><circle cx="126.51" cy="416.38" r="2.5" class="dot"/><circle cx="142.18" cy="396.61" r="2.5" class="dot"/><circle cx="142.18" cy="401.74" r="2.5" class="dot"/><circle cx="142.18" cy="402.79" r="2.5" class="dot"/><circle cx="142.18" cy="409.72" r="2.5" class="dot"/><circle cx="157.85" cy="369.37" r="2.5" class="dot"/><circle cx="157.85" cy="387.51" r="2.5" class="dot"/><circle cx="157.85" cy="409.93" r="2.5" class="dot"/><circle cx="157.85" cy="416.01" r="2.5" class="dot"/><circle cx="173.52" cy="378.47" r="2.5" class="dot"/><circle cx="173.52" cy="388.52" r="2.5" class="dot"/><circle cx="173.52" cy="395.18" r="2.5" class="dot"/><circle cx="173.52" cy="408.29" r="2.5" class="dot"/><circle cx="189.19" cy="367.36" r="2.5" class="dot"/><circle cx="189.19" cy="396.61" r="2.5" class="dot"/><circle cx="189.19" cy="400.26" r="2.5" class="dot"/><circle cx="189.19" cy="407.71" r="2.5" class="dot"/><circle cx="204.86" cy="392.59" r="2.5" class="dot"/><circle cx="204.86" cy="398.25" r="2.5" class="dot"/><circle cx="204.86" cy="404.7" r="2.5" class="dot"/><circle cx="204.86" cy="407.92" r="2.5" class="dot"/><circle cx="220.53" cy="387.14" r="2.5" class="dot"/><circle cx="220.53" cy="389.73" r="2.5" class="dot"/><circle cx="220.53" cy="394.17" r="2.5" class="dot"/><circle cx="220.53" cy="397.19" r="2.5" class="dot"/><circle cx="236.2" cy="379.47" r="2.5" class="dot"/><circle cx="236.2" cy="388.73" r="2.5" class="dot"/><circle cx="236.2" cy="391.74" r="2.5" class="dot"/><circle cx="236.2" cy="394.6" r="2.5" class="dot"/><circle cx="251.87" cy="395.81" r="2.5" class="dot"/><circle cx="251.87" cy="398.25" r="2.5" class="dot"/><circle cx="251.87" cy="408.93" r="2.5" class="dot"/><circle cx="251.87" cy="411.36" r="2.5" class="dot"/><circle cx="267.54" cy="390.58" r="2.5" class="dot"/><circle cx="267.54" cy="409.35" r="2.5" class="dot"/><circle cx="267.54" cy="411.36" r="2.5" class="dot"/><circle cx="267.54" cy="416.38" r="2.5" class="dot"/><circle cx="283.21" cy="357.48" r="2.5" class="dot"/><circle cx="283.21" cy="393.8" r="2.5" class="dot"/><circle cx="283.21" cy="403.27" r="2.5" class="dot"/><circle cx="283.21" cy="414.96" r="2.5" class="dot"/><circle cx="298.88" cy="400.26" r="2.5" class="dot"/><circle cx="298.88" cy="406.92" r="2.5" class="dot"/><circle cx="298.88" cy="414.37" r="2.5" class="dot"/><circle cx="298.88" cy="416.01" r="2.5" class="dot"/><circle cx="314.55" cy="378.26" r="2.5" class="dot"/><circle cx="314.55" cy="396.61" r="2.5" class="dot"/><circle cx="314.55" cy="400.68" r="2.5" class="dot"/><circle cx="314.55" cy="401.26" r="2.5" class="dot"/><circle cx="330.22" cy="384.71" r="2.5" class="dot"/><circle cx="330.22" cy="395.18" r="2.5" class="dot"/><circle cx="330.22" cy="412.36" r="2.5" class="dot"/><circle cx="330.22" cy="415.38" r="2.5" class="dot"/><circle cx="345.89" cy="413.95" r="2.5" class="dot"/><circle cx="345.89" cy="415.38" r="2.5" class="dot"/><circle cx="345.89" cy="416.01" r="2.5" class="dot"/><circle cx="345.89" cy="417.07" r="2.5" class="dot"/></g>
<line x1="70.8" y1="285.4" x2="70.8" y2="417.6" class="ax"/>
<line x1="70.8" y1="417.6" x2="353.5" y2="417.6" class="ax"/>
<text x="362" y="247" class="let">D.</text>
<text x="538" y="271.6" class="ttl" text-anchor="middle">Protein stimulation</text>
<text transform="translate(375.5,353.8) rotate(-90)" class="ylab" text-anchor="middle">IL-17A (pg/mL)</text>
<text x="418.6" y="423.6" class="tick" text-anchor="end">0</text>
<line x1="421.6" y1="419.3" x2="423.6" y2="419.3" class="ax"/>
<text x="418.6" y="397.44" class="tick" text-anchor="end">500</text>
<line x1="421.6" y1="393.14" x2="423.6" y2="393.14" class="ax"/>
<text x="418.6" y="371.28" class="tick" text-anchor="end">1000</text>
<line x1="421.6" y1="366.98" x2="423.6" y2="366.98" class="ax"/>
<text x="418.6" y="345.12" class="tick" text-anchor="end">1500</text>
<line x1="421.6" y1="340.82" x2="423.6" y2="340.82" class="ax"/>
<text x="418.6" y="318.96" class="tick" text-anchor="end">2000</text>
<line x1="421.6" y1="314.66" x2="423.6" y2="314.66" class="ax"/>
<text x="418.6" y="292.8" class="tick" text-anchor="end">2500</text>
<line x1="421.6" y1="288.5" x2="423.6" y2="288.5" class="ax"/>
<rect x="428.5" y="413.54" width="8" height="5.76" class="bar"/>
<line x1="432.5" y1="408.78" x2="432.5" y2="418.31" class="err"/>
<line x1="430.7" y1="408.78" x2="434.3" y2="408.78" class="err"/>
<line x1="430.7" y1="418.31" x2="434.3" y2="418.31" class="err"/>
<text transform="translate(434.3,426.7) rotate(-90)" class="cat" text-anchor="end">A1</text>
<line x1="431.5" y1="419.3" x2="431.5" y2="421.8" class="ax"/>
<rect x="444.5" y="404.6" width="8" height="14.7" class="bar"/>
<line x1="448.5" y1="400.78" x2="448.5" y2="408.42" class="err"/>
<line x1="446.7" y1="400.78" x2="450.3" y2="400.78" class="err"/>
<line x1="446.7" y1="408.42" x2="450.3" y2="408.42" class="err"/>
<text transform="translate(449.91,426.7) rotate(-90)" class="cat" text-anchor="end">A2</text>
<line x1="447.11" y1="419.3" x2="447.11" y2="421.8" class="ax"/>
<rect x="459.5" y="383.57" width="8" height="35.73" class="bar"/>
<line x1="463.5" y1="369.81" x2="463.5" y2="397.33" class="err"/>
<line x1="461.7" y1="369.81" x2="465.3" y2="369.81" class="err"/>
<line x1="461.7" y1="397.33" x2="465.3" y2="397.33" class="err"/>
<text transform="translate(465.52,426.7) rotate(-90)" class="cat" text-anchor="end">A3</text>
<line x1="462.72" y1="419.3" x2="462.72" y2="421.8" class="ax"/>
<rect x="475.5" y="416.11" width="8" height="3.19" class="bar"/>
<line x1="479.5" y1="414.02" x2="479.5" y2="418.2" class="err"/>
<line x1="477.7" y1="414.02" x2="481.3" y2="414.02" class="err"/>
<line x1="477.7" y1="418.2" x2="481.3" y2="418.2" class="err"/>
<text transform="translate(481.13,426.7) rotate(-90)" class="cat" text-anchor="end">A4</text>
<line x1="478.33" y1="419.3" x2="478.33" y2="421.8" class="ax"/>
<rect x="490.5" y="403.97" width="8" height="15.33" class="bar b5"/>
<line x1="494.5" y1="400.15" x2="494.5" y2="407.79" class="err"/>
<line x1="492.7" y1="400.15" x2="496.3" y2="400.15" class="err"/>
<line x1="492.7" y1="407.79" x2="496.3" y2="407.79" class="err"/>
<text transform="translate(496.74,426.7) rotate(-90)" class="cat" text-anchor="end">A5</text>
<line x1="493.94" y1="419.3" x2="493.94" y2="421.8" class="ax"/>
<rect x="506.5" y="413.54" width="8" height="5.76" class="bar"/>
<line x1="510.5" y1="410.41" x2="510.5" y2="416.68" class="err"/>
<line x1="508.7" y1="410.41" x2="512.3" y2="410.41" class="err"/>
<line x1="508.7" y1="416.68" x2="512.3" y2="416.68" class="err"/>
<text transform="translate(512.35,426.7) rotate(-90)" class="cat" text-anchor="end">A6</text>
<line x1="509.55" y1="419.3" x2="509.55" y2="421.8" class="ax"/>
<rect x="522.5" y="325.12" width="8" height="94.18" class="bar"/>
<line x1="526.5" y1="313.04" x2="526.5" y2="337.21" class="err"/>
<line x1="524.7" y1="313.04" x2="528.3" y2="313.04" class="err"/>
<line x1="524.7" y1="337.21" x2="528.3" y2="337.21" class="err"/>
<text transform="translate(527.96,426.7) rotate(-90)" class="cat" text-anchor="end">A7</text>
<line x1="525.16" y1="419.3" x2="525.16" y2="421.8" class="ax"/>
<rect x="537.5" y="372.68" width="8" height="46.62" class="bar"/>
<line x1="541.5" y1="353.85" x2="541.5" y2="391.52" class="err"/>
<line x1="539.7" y1="353.85" x2="543.3" y2="353.85" class="err"/>
<line x1="539.7" y1="391.52" x2="543.3" y2="391.52" class="err"/>
<text transform="translate(543.57,426.7) rotate(-90)" class="cat" text-anchor="end">A8</text>
<line x1="540.77" y1="419.3" x2="540.77" y2="421.8" class="ax"/>
<rect x="553.5" y="399.21" width="8" height="20.09" class="bar"/>
<line x1="557.5" y1="387.38" x2="557.5" y2="411.03" class="err"/>
<line x1="555.7" y1="387.38" x2="559.3" y2="387.38" class="err"/>
<line x1="555.7" y1="411.03" x2="559.3" y2="411.03" class="err"/>
<text transform="translate(559.18,426.7) rotate(-90)" class="cat" text-anchor="end">A9</text>
<line x1="556.38" y1="419.3" x2="556.38" y2="421.8" class="ax"/>
<rect x="568.5" y="373.47" width="8" height="45.83" class="bar"/>
<line x1="572.5" y1="367.61" x2="572.5" y2="379.33" class="err"/>
<line x1="570.7" y1="367.61" x2="574.3" y2="367.61" class="err"/>
<line x1="570.7" y1="379.33" x2="574.3" y2="379.33" class="err"/>
<text transform="translate(574.79,426.7) rotate(-90)" class="cat" text-anchor="end">A10</text>
<line x1="571.99" y1="419.3" x2="571.99" y2="421.8" class="ax"/>
<rect x="584.5" y="377.81" width="8" height="41.49" class="bar"/>
<line x1="588.5" y1="371.43" x2="588.5" y2="384.19" class="err"/>
<line x1="586.7" y1="371.43" x2="590.3" y2="371.43" class="err"/>
<line x1="586.7" y1="384.19" x2="590.3" y2="384.19" class="err"/>
<text transform="translate(590.4,426.7) rotate(-90)" class="cat" text-anchor="end">A11</text>
<line x1="587.6" y1="419.3" x2="587.6" y2="421.8" class="ax"/>
<rect x="600.5" y="415.69" width="8" height="3.61" class="bar"/>
<line x1="604.5" y1="413.65" x2="604.5" y2="417.73" class="err"/>
<line x1="602.7" y1="413.65" x2="606.3" y2="413.65" class="err"/>
<line x1="602.7" y1="417.73" x2="606.3" y2="417.73" class="err"/>
<text transform="translate(606.01,426.7) rotate(-90)" class="cat" text-anchor="end">A12</text>
<line x1="603.21" y1="419.3" x2="603.21" y2="421.8" class="ax"/>
<rect x="615.5" y="396.54" width="8" height="22.76" class="bar"/>
<line x1="619.5" y1="386.81" x2="619.5" y2="406.27" class="err"/>
<line x1="617.7" y1="386.81" x2="621.3" y2="386.81" class="err"/>
<line x1="617.7" y1="406.27" x2="621.3" y2="406.27" class="err"/>
<text transform="translate(621.62,426.7) rotate(-90)" class="cat" text-anchor="end">A13</text>
<line x1="618.82" y1="419.3" x2="618.82" y2="421.8" class="ax"/>
<rect x="631.5" y="391.15" width="8" height="28.15" class="bar"/>
<line x1="635.5" y1="380.37" x2="635.5" y2="401.93" class="err"/>
<line x1="633.7" y1="380.37" x2="637.3" y2="380.37" class="err"/>
<line x1="633.7" y1="401.93" x2="637.3" y2="401.93" class="err"/>
<text transform="translate(637.23,426.7) rotate(-90)" class="cat" text-anchor="end">A14</text>
<line x1="634.43" y1="419.3" x2="634.43" y2="421.8" class="ax"/>
<rect x="647.5" y="411.35" width="8" height="7.95" class="bar"/>
<line x1="651.5" y1="407.79" x2="651.5" y2="414.91" class="err"/>
<line x1="649.7" y1="407.79" x2="653.3" y2="407.79" class="err"/>
<line x1="649.7" y1="414.91" x2="653.3" y2="414.91" class="err"/>
<text transform="translate(652.84,426.7) rotate(-90)" class="cat" text-anchor="end">A15</text>
<line x1="650.04" y1="419.3" x2="650.04" y2="421.8" class="ax"/>
<rect x="662.5" y="407.53" width="8" height="11.77" class="bar"/>
<line x1="666.5" y1="400.88" x2="666.5" y2="414.17" class="err"/>
<line x1="664.7" y1="400.88" x2="668.3" y2="400.88" class="err"/>
<line x1="664.7" y1="414.17" x2="668.3" y2="414.17" class="err"/>
<text transform="translate(668.45,426.7) rotate(-90)" class="cat" text-anchor="end">A16</text>
<line x1="665.65" y1="419.3" x2="665.65" y2="421.8" class="ax"/>
<rect x="678.5" y="408.57" width="8" height="10.73" class="bar"/>
<line x1="682.5" y1="404.18" x2="682.5" y2="412.97" class="err"/>
<line x1="680.7" y1="404.18" x2="684.3" y2="404.18" class="err"/>
<line x1="680.7" y1="412.97" x2="684.3" y2="412.97" class="err"/>
<text transform="translate(684.06,426.7) rotate(-90)" class="cat" text-anchor="end">A17</text>
<line x1="681.26" y1="419.3" x2="681.26" y2="421.8" class="ax"/>
<rect x="693.5" y="412.39" width="8" height="6.91" class="bar"/>
<line x1="697.5" y1="410.35" x2="697.5" y2="414.43" class="err"/>
<line x1="695.7" y1="410.35" x2="699.3" y2="410.35" class="err"/>
<line x1="695.7" y1="414.43" x2="699.3" y2="414.43" class="err"/>
<text transform="translate(701.67,425.8) rotate(-90)" class="cat ctl" text-anchor="end">Control</text>
<line x1="696.87" y1="419.3" x2="696.87" y2="421.8" class="ax"/>
<text x="526.4" y="286.8" class="star" text-anchor="middle">*</text>
<text x="542.3" y="319.8" class="star" text-anchor="middle">*</text>
<text x="572.6" y="350.4" class="star" text-anchor="middle">*</text>
<clipPath id="cpD"><rect x="423.6" y="0" width="292.1" height="419.3"/></clipPath>
<g clip-path="url(#cpD)"><circle cx="432.5" cy="398.22" r="2.5" class="dot"/><circle cx="432.5" cy="416.74" r="2.5" class="dot"/><circle cx="432.5" cy="418.36" r="2.5" class="dot"/><circle cx="432.5" cy="419.3" r="2.5" class="dot"/><circle cx="448.11" cy="393.77" r="2.5" class="dot"/><circle cx="448.11" cy="402.4" r="2.5" class="dot"/><circle cx="448.11" cy="409.73" r="2.5" class="dot"/><circle cx="448.11" cy="410.98" r="2.5" class="dot"/><circle cx="463.72" cy="350.66" r="2.5" class="dot"/><circle cx="463.72" cy="377.81" r="2.5" class="dot"/><circle cx="463.72" cy="388.64" r="2.5" class="dot"/><circle cx="463.72" cy="418.67" r="2.5" class="dot"/><circle cx="479.33" cy="409.41" r="2.5" class="dot"/><circle cx="479.33" cy="416.11" r="2.5" class="dot"/><circle cx="479.33" cy="418.36" r="2.5" class="dot"/><circle cx="479.33" cy="419.3" r="2.5" class="dot"/><circle cx="494.94" cy="392.51" r="2.5" class="dot"/><circle cx="494.94" cy="401.41" r="2.5" class="dot"/><circle cx="494.94" cy="407.16" r="2.5" class="dot"/><circle cx="494.94" cy="415.17" r="2.5" class="dot"/><circle cx="510.55" cy="404.6" r="2.5" class="dot"/><circle cx="510.55" cy="408.78" r="2.5" class="dot"/><circle cx="510.55" cy="416.74" r="2.5" class="dot"/><circle cx="510.55" cy="419.3" r="2.5" class="dot"/><circle cx="526.16" cy="293.89" r="2.5" class="dot"/><circle cx="526.16" cy="316.23" r="2.5" class="dot"/><circle cx="526.16" cy="337.89" r="2.5" class="dot"/><circle cx="526.16" cy="351.34" r="2.5" class="dot"/><circle cx="541.77" cy="326.12" r="2.5" class="dot"/><circle cx="541.77" cy="359.29" r="2.5" class="dot"/><circle cx="541.77" cy="401.41" r="2.5" class="dot"/><circle cx="541.77" cy="400.36" r="2.5" class="dot"/><circle cx="557.38" cy="365.67" r="2.5" class="dot"/><circle cx="557.38" cy="399.21" r="2.5" class="dot"/><circle cx="557.38" cy="410.35" r="2.5" class="dot"/><circle cx="557.38" cy="417.73" r="2.5" class="dot"/><circle cx="572.99" cy="363.74" r="2.5" class="dot"/><circle cx="572.99" cy="368.86" r="2.5" class="dot"/><circle cx="572.99" cy="375.25" r="2.5" class="dot"/><circle cx="572.99" cy="384.98" r="2.5" class="dot"/><circle cx="588.6" cy="366.82" r="2.5" class="dot"/><circle cx="588.6" cy="367.08" r="2.5" class="dot"/><circle cx="588.6" cy="381.16" r="2.5" class="dot"/><circle cx="588.6" cy="396.54" r="2.5" class="dot"/><circle cx="604.21" cy="408.05" r="2.5" class="dot"/><circle cx="604.21" cy="416.21" r="2.5" class="dot"/><circle cx="604.21" cy="418.78" r="2.5" class="dot"/><circle cx="604.21" cy="419.3" r="2.5" class="dot"/><circle cx="619.82" cy="370.17" r="2.5" class="dot"/><circle cx="619.82" cy="398.32" r="2.5" class="dot"/><circle cx="619.82" cy="398.9" r="2.5" class="dot"/><circle cx="619.82" cy="418.78" r="2.5" class="dot"/><circle cx="635.43" cy="368.34" r="2.5" class="dot"/><circle cx="635.43" cy="379.85" r="2.5" class="dot"/><circle cx="635.43" cy="405.49" r="2.5" class="dot"/><circle cx="635.43" cy="410.61" r="2.5" class="dot"/><circle cx="651.04" cy="399.05" r="2.5" class="dot"/><circle cx="651.04" cy="411.87" r="2.5" class="dot"/><circle cx="651.04" cy="415.48" r="2.5" class="dot"/><circle cx="651.04" cy="418.04" r="2.5" class="dot"/><circle cx="666.65" cy="388.85" r="2.5" class="dot"/><circle cx="666.65" cy="410.35" r="2.5" class="dot"/><circle cx="666.65" cy="412.39" r="2.5" class="dot"/><circle cx="666.65" cy="417" r="2.5" class="dot"/><circle cx="682.26" cy="397.8" r="2.5" class="dot"/><circle cx="682.26" cy="407.79" r="2.5" class="dot"/><circle cx="682.26" cy="409.83" r="2.5" class="dot"/><circle cx="682.26" cy="418.04" r="2.5" class="dot"/><circle cx="697.87" cy="407.79" r="2.5" class="dot"/><circle cx="697.87" cy="411.09" r="2.5" class="dot"/><circle cx="697.87" cy="414.43" r="2.5" class="dot"/><circle cx="697.87" cy="416.21" r="2.5" class="dot"/></g>
<line x1="423.6" y1="288.5" x2="423.6" y2="419.3" class="ax"/>
<line x1="423.6" y1="419.3" x2="705.7" y2="419.3" class="ax"/>
</svg>
</body></html>
